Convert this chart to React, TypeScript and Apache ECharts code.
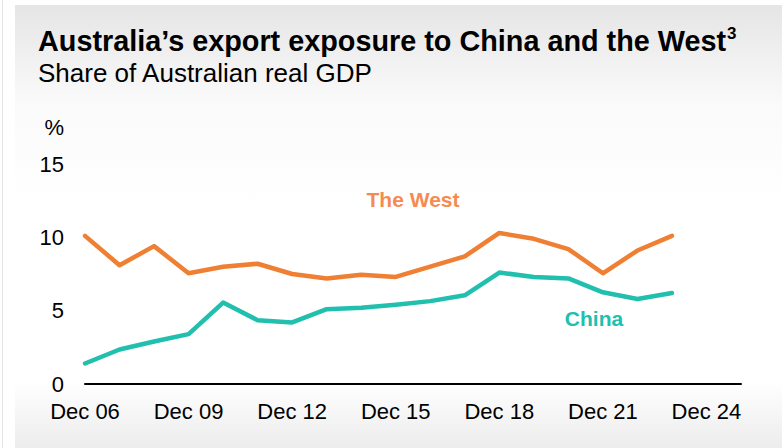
import React, { useEffect, useRef } from "react";
import * as echarts from "echarts";

// Years shown on the category axis (axis runs to Dec 25, labels every 3 years)
const categories: string[] = [
  "Dec 06", "Dec 07", "Dec 08", "Dec 09", "Dec 10", "Dec 11", "Dec 12",
  "Dec 13", "Dec 14", "Dec 15", "Dec 16", "Dec 17", "Dec 18", "Dec 19",
  "Dec 20", "Dec 21", "Dec 22", "Dec 23", "Dec 24", "Dec 25",
];

// Share of Australian real GDP, %
const westValues: number[] = [
  10.1, 8.1, 9.4, 7.55, 8.0, 8.2, 7.5, 7.2, 7.45, 7.3, 8.0, 8.7, 10.3, 9.9, 9.2, 7.55, 9.1, 10.1,
];
const chinaValues: number[] = [
  1.4, 2.35, 2.9, 3.4, 5.55, 4.35, 4.2, 5.1, 5.2, 5.4, 5.65, 6.05, 7.6, 7.3, 7.2, 6.25, 5.8, 6.2,
];

const yTicks = { min: 0, max: 15, interval: 5 };

const TITLE = "Australia\u2019s export exposure to China and the West";
const TITLE_NOTE = "3";
const SUBTITLE = "Share of Australian real GDP";
const FONT = "Liberation Sans, Arial, sans-serif";
const TITLE_SIZE = 28.8;

function measure(text: string, font: string): number {
  const c = document.createElement("canvas");
  const ctx = c.getContext("2d");
  if (!ctx) return text.length * 14;
  ctx.font = font;
  return ctx.measureText(text).width;
}

export default function App() {
  const ref = useRef<HTMLDivElement>(null);

  useEffect(() => {
    if (!ref.current) return;
    const chart = echarts.init(ref.current, null, { renderer: "svg" });
    const titleWidth = measure(TITLE, `bold ${TITLE_SIZE}px "Liberation Sans", Arial, sans-serif`);
    chart.setOption({
      animation: false,
      textStyle: { fontFamily: FONT },
      grid: { left: 85, right: 41, top: 164, bottom: 64, containLabel: false },
      xAxis: {
        type: "category",
        data: categories,
        boundaryGap: false,
        axisLine: { show: true, lineStyle: { color: "#000", width: 2 } },
        axisTick: { show: false },
        axisLabel: {
          interval: 2,
          color: "#000",
          fontSize: 22,
          fontFamily: FONT,
          margin: 16,
        },
        splitLine: { show: false },
      },
      yAxis: {
        type: "value",
        min: yTicks.min,
        max: yTicks.max,
        interval: yTicks.interval,
        name: "%",
        nameLocation: "end",
        nameGap: 26,
        nameTextStyle: {
          color: "#000",
          fontSize: 22,
          fontFamily: FONT,
          align: "right",
          padding: [0, 21, 0, 0],
        },
        axisLine: { show: false },
        axisTick: { show: false },
        splitLine: { show: false },
        axisLabel: { color: "#000", fontSize: 22, fontFamily: FONT, margin: 21 },
      },
      series: [
        {
          name: "The West",
          type: "line",
          data: westValues,
          showSymbol: false,
          lineStyle: { color: "#ef7f33", width: 4.5, cap: "round", join: "round" },
          itemStyle: { color: "#ef7f33" },
        },
        {
          name: "China",
          type: "line",
          data: chinaValues,
          showSymbol: false,
          lineStyle: { color: "#20bfae", width: 4.5, cap: "round", join: "round" },
          itemStyle: { color: "#20bfae" },
        },
      ],
      graphic: [
        {
          type: "text",
          x: 38,
          y: 41,
          style: {
            text: TITLE,
            fontSize: TITLE_SIZE,
            fontWeight: "bold",
            fontFamily: FONT,
            fill: "#000",
            verticalAlign: "middle",
          },
        },
        {
          type: "text",
          x: 38 + titleWidth + 1,
          y: 33.5,
          style: {
            text: TITLE_NOTE,
            fontSize: 17,
            fontWeight: "bold",
            fontFamily: FONT,
            fill: "#000",
            verticalAlign: "middle",
          },
        },
        {
          type: "text",
          x: 38,
          y: 72.5,
          style: { text: SUBTITLE, fontSize: 26, fontFamily: FONT, fill: "#000", verticalAlign: "middle" },
        },
        {
          type: "text",
          x: 413,
          y: 199,
          style: {
            text: "The West",
            fontSize: 21,
            fontWeight: "bold",
            fontFamily: FONT,
            fill: "#f58b50",
            align: "center",
            verticalAlign: "middle",
          },
        },
        {
          type: "text",
          x: 594,
          y: 318,
          style: {
            text: "China",
            fontSize: 21,
            fontWeight: "bold",
            fontFamily: FONT,
            fill: "#20bfae",
            align: "center",
            verticalAlign: "middle",
          },
        },
      ],
    });
    return () => chart.dispose();
  }, []);

  return (
    <div style={{ position: "absolute", left: 0, top: 0, width: 782, height: 448, background: "#fff", overflow: "hidden" }}>
      <div style={{ position: "absolute", left: 2, top: 0, width: 1, height: 448, background: "#e4e4e4" }} />
      <div
        style={{
          position: "absolute",
          left: 15,
          top: 5,
          right: 0,
          bottom: 0,
          background: "linear-gradient(to bottom, #e5e5e5 0%, #fafafa 22%, #ffffff 45%, #ffffff 85%, #ececec 100%)",
        }}
      />
      <div ref={ref} style={{ position: "absolute", left: 0, top: 0, width: 782, height: 448 }} />
    </div>
  );
}
